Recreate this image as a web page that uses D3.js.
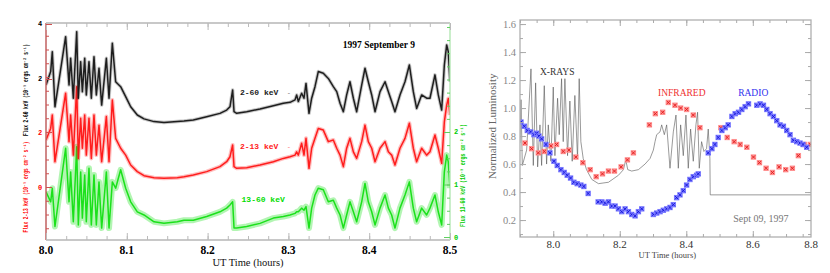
<!DOCTYPE html>
<html>
<head>
<meta charset="utf-8">
<script src="https://cdn.jsdelivr.net/npm/d3@7"></script>
<style>
  body { margin: 0; background: #fff; }
  svg { display: block; }
</style>
</head>
<body>
<div id="chart"></div>
<script>
// ---- left panel: RXTE light curves (UT hours)
const leftTime = [
  8.000, 8.0058, 8.0078, 8.0111, 8.0243, 8.0285, 8.0305, 8.0338, 8.0380, 8.0400,
  8.0429, 8.0450, 8.0479, 8.0499, 8.0532, 8.0561, 8.0594, 8.0623, 8.0656, 8.0689,
  8.0747, 8.0780, 8.0821, 8.0862, 8.0924, 8.0986, 8.1048, 8.1130, 8.1213, 8.1337,
  8.1460, 8.1625, 8.1708,
  8.1823, 8.1989, 8.2153, 8.2236, 8.2277, 8.2310, 8.2327, 8.2360, 8.2484, 8.2649,
  8.2814, 8.2937, 8.3020, 8.3082, 8.3102, 8.3123, 8.3164, 8.3193, 8.3218, 8.3255,
  8.3288, 8.3329, 8.3370,
  8.3432, 8.3494, 8.3556, 8.3598, 8.3639, 8.3680, 8.3721, 8.3762, 8.3804, 8.3845,
  8.3907, 8.3948, 8.3989, 8.4031, 8.4072, 8.4134, 8.4196, 8.4237, 8.4278, 8.4319,
  8.4381, 8.4443, 8.4497, 8.4546, 8.4587, 8.4649, 8.4711, 8.4752, 8.4814, 8.4855,
  8.4897, 8.4930, 8.4959, 8.4979, 8.5000
];
const flux2to60 = [
  1.78, 2.27, 2.99, 0.99, 3.54, 1.78, 2.75, 1.30, 3.72, 1.30,
  2.63, 1.54, 2.75, 1.42, 2.63, 1.30, 2.81, 1.42, 2.39, 1.05,
  2.75, 1.30, 3.30, 1.90, 1.72, 1.36, 0.99, 0.69, 0.55, 0.45,
  0.42, 0.45, 0.47,
  0.51, 0.63, 0.75, 0.87, 0.99, 1.60, 0.81, 0.75, 0.81, 0.91,
  1.03, 1.12, 1.15, 1.24, 1.42, 1.18, 1.48, 1.30, 1.84, 0.75,
  1.30, 1.72, 2.27,
  2.21, 2.02, 1.72, 1.54, 1.12, 0.81, 1.42, 1.90, 1.30, 0.81,
  1.78, 2.39, 1.90, 1.42, 0.81, 1.54, 1.90, 1.54, 1.18, 0.81,
  1.42, 1.90, 2.51, 1.54, 0.93, 1.42, 1.30, 1.30, 2.15, 1.42,
  0.87, 2.51, 3.24, 2.99, 1.90
];
const flux2to13 = [
  1.71, 2.13, 2.62, 0.92, 3.41, 1.65, 2.62, 1.16, 3.65, 1.04,
  2.50, 1.41, 2.62, 1.16, 2.50, 1.04, 2.62, 1.16, 2.25, 0.92,
  2.56, 0.92, 3.16, 1.77, 1.41, 1.16, 0.80, 0.56, 0.41, 0.34,
  0.32, 0.34, 0.37,
  0.44, 0.56, 0.74, 0.92, 1.10, 1.53, 0.74, 0.68, 0.70, 0.80,
  0.92, 1.04, 1.10, 1.16, 1.28, 1.16, 1.59, 1.16, 1.77, 0.68,
  1.41, 1.77, 2.13,
  2.07, 1.65, 1.71, 1.41, 1.16, 0.74, 1.41, 1.77, 1.28, 1.04,
  1.65, 2.25, 1.65, 1.41, 0.92, 1.41, 1.65, 1.28, 1.16, 0.80,
  1.41, 1.77, 2.32, 1.41, 0.92, 1.41, 1.16, 1.28, 1.89, 1.41,
  0.86, 2.37, 2.98, 3.22, 2.62
];
const flux13to60 = [
  0.86, 0.67, 0.93, 0.20, 1.69, 0.67, 1.24, 0.29, 1.72, 0.23,
  1.24, 0.36, 1.18, 0.29, 1.31, 0.23, 1.18, 0.23, 1.05, 0.17,
  1.24, 0.17, 1.05, 0.93, 1.28, 0.93, 0.67, 0.48, 0.42, 0.29,
  0.26, 0.29, 0.32,
  0.32, 0.39, 0.48, 0.55, 0.61, 0.67, 0.17, 0.17, 0.20, 0.26,
  0.36, 0.39, 0.42, 0.45, 0.48, 0.48, 0.55, 0.51, 0.58, 0.17,
  0.55, 0.80, 0.93,
  0.90, 0.67, 0.70, 0.55, 0.42, 0.17, 0.42, 0.67, 0.48, 0.29,
  0.67, 1.02, 0.67, 0.48, 0.23, 0.55, 0.80, 0.55, 0.42, 0.17,
  0.55, 0.80, 1.05, 0.55, 0.29, 0.55, 0.42, 0.55, 0.80, 0.48,
  0.23, 1.24, 1.56, 1.43, 0.93
];
const leftTicks = [8.0, 8.1, 8.2, 8.3, 8.4, 8.5];

// ---- right panel: normalized luminosity
const xrayTime = [
  7.900, 7.903, 7.907, 7.920, 7.933, 7.940, 7.947, 7.953, 7.960, 7.965,
  7.973, 7.980, 7.985, 7.993, 8.000, 8.005, 8.013, 8.018, 8.025, 8.030,
  8.035, 8.043, 8.050, 8.057, 8.065, 8.073, 8.078, 8.083, 8.090, 8.100,
  8.116, 8.136, 8.166, 8.196, 8.211, 8.218, 8.224, 8.236, 8.256, 8.276,
  8.291, 8.301, 8.306, 8.311, 8.321, 8.326, 8.334, 8.341, 8.351, 8.361,
  8.369, 8.376, 8.383, 8.391, 8.399, 8.406, 8.413, 8.421, 8.429, 8.434,
  8.439, 8.446, 8.453, 8.461, 8.466, 8.471, 8.472, 8.775
];
const xrayLum = [
  0.75, 1.06, 0.59, 0.70, 1.28, 0.59, 1.18, 0.58, 0.88, 0.59,
  1.16, 0.60, 0.88, 0.62, 1.15, 0.66, 1.07, 0.81, 1.21, 0.76,
  1.21, 0.66, 1.05, 0.62, 1.09, 0.64, 1.21, 0.76, 0.64, 0.56,
  0.49, 0.46, 0.47, 0.52, 0.56, 0.63, 0.56, 0.55, 0.56, 0.60,
  0.64, 0.70, 0.76, 0.81, 0.83, 0.88, 0.81, 0.88, 0.57, 0.83,
  0.95, 0.57, 0.88, 0.66, 0.95, 0.57, 0.85, 0.62, 0.88, 0.97,
  0.57, 0.76, 0.69, 0.71, 0.85, 0.64, 0.38, 0.38
];
const irTime = [
  7.915, 7.935, 7.955, 7.973, 7.993, 8.010, 8.030, 8.047, 8.068, 8.089,
  8.111, 8.129, 8.148, 8.166, 8.184, 8.204, 8.223, 8.241, 8.289, 8.307,
  8.329, 8.346, 8.366, 8.383, 8.401, 8.421, 8.441, 8.504, 8.523, 8.544,
  8.562, 8.582, 8.602, 8.620, 8.640, 8.659, 8.679, 8.699, 8.719, 8.737,
  8.755, 8.773
];
const irLum = [
  0.75, 0.71, 0.68, 0.69, 0.73, 0.74, 0.69, 0.70, 0.65, 0.61,
  0.56, 0.51, 0.53, 0.55, 0.55, 0.58, 0.63, 0.68, 0.88, 0.96,
  0.97, 1.04, 1.02, 1.00, 0.99, 0.95, 0.86, 0.86, 0.79, 0.76,
  0.74, 0.72, 0.65, 0.61, 0.57, 0.54, 0.58, 0.56, 0.57, 0.66,
  0.74, 0.74
];
const radioTime = [
  7.903, 7.913, 7.922, 7.932, 7.942, 7.950, 7.957, 7.965, 7.978, 7.990,
  8.002, 8.012, 8.023, 8.033, 8.042, 8.052, 8.062, 8.072, 8.083, 8.092,
  8.105, 8.135, 8.146, 8.156, 8.166, 8.176, 8.186, 8.196, 8.206, 8.216,
  8.226, 8.236, 8.246, 8.256, 8.266, 8.301, 8.311, 8.321, 8.331, 8.341,
  8.351, 8.361, 8.371, 8.381, 8.391, 8.401, 8.411, 8.421, 8.431, 8.436,
  8.466, 8.477, 8.486, 8.496, 8.507, 8.517, 8.526, 8.537, 8.547, 8.557,
  8.567, 8.577, 8.587, 8.612, 8.622, 8.632, 8.642, 8.652, 8.662, 8.672,
  8.682, 8.692, 8.702, 8.712, 8.722, 8.732, 8.742, 8.751, 8.762
];
const radioLum = [
  0.90, 0.87, 0.84, 0.83, 0.81, 0.82, 0.80, 0.78, 0.74, 0.68,
  0.62, 0.59, 0.56, 0.54, 0.52, 0.50, 0.47, 0.46, 0.45, 0.44,
  0.39, 0.33, 0.33, 0.32, 0.33, 0.30, 0.30, 0.28, 0.26, 0.28,
  0.26, 0.24, 0.23, 0.26, 0.28, 0.24, 0.25, 0.26, 0.27, 0.28,
  0.29, 0.31, 0.36, 0.38, 0.41, 0.45, 0.49, 0.51, 0.52, 0.53,
  0.68, 0.71, 0.74, 0.79, 0.84, 0.86, 0.88, 0.94, 0.96, 0.97,
  0.99, 1.01, 1.03, 1.02, 1.03, 1.02, 0.99, 0.96, 0.94, 0.91,
  0.88, 0.87, 0.84, 0.81, 0.77, 0.76, 0.75, 0.74, 0.72
];
const rightXTicks = [8.0, 8.2, 8.4, 8.6, 8.8];
const rightYTicks = [0.2, 0.4, 0.6, 0.8, 1.0, 1.2, 1.4, 1.6];

const serif = "'Liberation Serif', 'DejaVu Serif', serif";
const mono = "'Liberation Mono', 'DejaVu Sans Mono', monospace";

const svg = d3.select("#chart").append("svg")
  .attr("width", 830).attr("height", 273);
svg.append("rect").attr("width", 830).attr("height", 273).attr("fill", "#fff");
const defs = svg.append("defs");

// ================= left panel =================
const xL = d3.scaleLinear().domain([8.0, 8.5]).range([46, 450]);
const yBlack = d3.scaleLinear().domain([-3.855, 4.036]).range([240, 23]);
const yRed = d3.scaleLinear().domain([-1.927, 5.964]).range([240, 23]);
const yGreen = d3.scaleLinear().domain([-0.057, 4.076]).range([240, 23]);

defs.append("clipPath").attr("id", "clipL").append("rect")
  .attr("x", 46).attr("y", 23).attr("width", 404).attr("height", 217);

const gL = svg.append("g");
const plotL = gL.append("g").attr("clip-path", "url(#clipL)");

// noisy band look: a faint wide stroke under a thinner core line
function drawBand(values, yScale, color, halo, haloOp) {
  const pts = leftTime.map((t, i) => [t, values[i]]);
  const line = d3.line().x(d => xL(d[0])).y(d => yScale(d[1]));
  plotL.append("path").datum(pts).attr("d", line)
    .attr("fill", "none").attr("stroke", color).attr("stroke-opacity", haloOp)
    .attr("stroke-width", halo).attr("stroke-linejoin", "round");
  plotL.append("path").datum(pts).attr("d", line)
    .attr("fill", "none").attr("stroke", color).attr("stroke-opacity", 0.85)
    .attr("stroke-width", 1.5).attr("stroke-linejoin", "round");
}
drawBand(flux13to60, yGreen, "#00dd00", 6, 0.3);
drawBand(flux2to13, yRed, "#ff0000", 4, 0.25);
drawBand(flux2to60, yBlack, "#000000", 3.5, 0.22);

// frame
gL.append("line").attr("x1", 46).attr("x2", 450).attr("y1", 23).attr("y2", 23)
  .attr("stroke", "#c8c8c8").attr("stroke-width", 2);
gL.append("line").attr("x1", 46).attr("x2", 450).attr("y1", 240).attr("y2", 240)
  .attr("stroke", "#c8c8c8").attr("stroke-width", 2);
gL.append("line").attr("x1", 46).attr("x2", 46).attr("y1", 23).attr("y2", 240)
  .attr("stroke", "#c06060").attr("stroke-width", 1.5);
gL.append("line").attr("x1", 450).attr("x2", 450).attr("y1", 23).attr("y2", 240)
  .attr("stroke", "#b8e8b8").attr("stroke-width", 1.5);

function tickGroup(parent, transform, axis, color) {
  const g = parent.append("g").attr("transform", transform).call(axis);
  g.select(".domain").remove();
  g.selectAll(".tick line").attr("stroke", color);
  g.selectAll(".tick text").remove();
  return g;
}

const minorT = d3.range(0, 21).map(i => 8 + i * 0.025);
tickGroup(gL, "translate(0,23)", d3.axisBottom(xL).tickValues(minorT).tickSize(4), "#bbb");
tickGroup(gL, "translate(0,23)", d3.axisBottom(xL).tickValues(leftTicks).tickSize(7), "#bbb");
tickGroup(gL, "translate(0,240)", d3.axisTop(xL).tickValues(minorT).tickSize(4), "#bbb");
tickGroup(gL, "translate(0,240)", d3.axisTop(xL).tickValues(leftTicks).tickSize(7), "#bbb");

tickGroup(gL, "translate(46,0)",
  d3.axisRight(yRed).tickValues(d3.range(-1.5, 6, 0.5)).tickSize(3), "#d05050");
tickGroup(gL, "translate(46,0)",
  d3.axisRight(yRed).tickValues([0, 2]).tickSize(6), "#d05050");
tickGroup(gL, "translate(46,0)",
  d3.axisRight(yBlack).tickValues([2, 4]).tickSize(6), "#d05050");
tickGroup(gL, "translate(450,0)",
  d3.axisLeft(yGreen).tickValues(d3.range(0, 4.01, 0.25)).tickSize(3), "#60d060");
tickGroup(gL, "translate(450,0)",
  d3.axisLeft(yGreen).tickValues([0, 1, 2]).tickSize(6), "#60d060");

// tick labels
gL.selectAll("text.xl").data(leftTicks).join("text")
  .attr("x", d => xL(d)).attr("y", 253.5)
  .attr("text-anchor", "middle").attr("font-family", serif)
  .attr("font-weight", "bold").attr("font-size", 11.5).attr("fill", "#000")
  .text(d3.format(".1f"));
gL.append("text").attr("x", xL(8.25)).attr("y", 265.5)
  .attr("text-anchor", "middle").attr("font-family", serif)
  .attr("font-size", 10.5).attr("fill", "#111").text("UT Time (hours)");

gL.selectAll("text.yb").data([4, 2]).join("text")
  .attr("x", 40).attr("y", d => yBlack(d) + 2.5)
  .attr("text-anchor", "middle").attr("font-family", mono).attr("font-weight", "bold")
  .attr("font-size", 7).attr("fill", "#000").text(d => d);
gL.selectAll("text.yr").data([2, 0]).join("text")
  .attr("x", 40).attr("y", d => yRed(d) + 2.5)
  .attr("text-anchor", "middle").attr("font-family", mono).attr("font-weight", "bold")
  .attr("font-size", 7).attr("fill", "#ff0000").text(d => d);
gL.selectAll("text.yg").data([2, 1, 0]).join("text")
  .attr("x", 456).attr("y", d => yGreen(d) + 2.5)
  .attr("text-anchor", "middle").attr("font-family", mono).attr("font-weight", "bold")
  .attr("font-size", 7).attr("fill", "#00cc00").text(d => d);

// axis titles (rotated)
function vTitle(x, yMid, len, color, txt) {
  gL.append("text")
    .attr("transform", `translate(${x},${yMid}) rotate(-90)`)
    .attr("text-anchor", "middle").attr("font-family", mono).attr("font-weight", "bold")
    .attr("font-size", 6.5).attr("fill", color)
    .attr("textLength", len).attr("lengthAdjust", "spacingAndGlyphs")
    .text(txt);
}
vTitle(27.5, yBlack(1.6), 92, "#000", "Flux 2-60 keV (10\u207B\u2079 ergs cm\u207B\u00B2 s\u207B\u00B9)");
vTitle(27.5, yRed(-0.0), 91, "#ff0000", "Flux 2-13 keV (10\u207B\u2079 ergs cm\u207B\u00B2 s\u207B\u00B9)");
vTitle(464.5, yGreen(1.17), 103, "#00cc00", "Flux 13-60 keV (10\u207B\u2079 ergs cm\u207B\u00B2 s\u207B\u00B9)");

// annotations
gL.append("text").attr("x", xL(8.412)).attr("y", yBlack(3.13))
  .attr("text-anchor", "middle").attr("font-family", serif).attr("font-weight", "bold")
  .attr("font-size", 9.5).attr("fill", "#000").text("1997 September 9");
const bandLabels = [
  { t: 8.240, y: yBlack(1.42), c: "#222", s: "2-60 keV", dash: true },
  { t: 8.240, y: yRed(1.38), c: "#ff2020", s: "2-13 keV", dash: true },
  { t: 8.242, y: yGreen(0.667), c: "#00dd00", s: "13-60 keV", dash: false }
];
gL.selectAll("text.band").data(bandLabels).join("text")
  .attr("x", d => xL(d.t)).attr("y", d => d.y)
  .attr("font-family", mono).attr("font-weight", "bold").attr("font-size", 8)
  .attr("fill", d => d.c).text(d => d.s);
gL.selectAll("text.dash").data(bandLabels.filter(d => d.dash)).join("text")
  .attr("x", d => xL(d.t + 0.058)).attr("y", d => d.y)
  .attr("font-family", mono).attr("font-size", 7)
  .attr("fill", d => d.c).attr("opacity", 0.6).text("-");

// ================= right panel =================
const xR = d3.scaleLinear().domain([7.9, 8.775]).range([520, 811]);
const yR = d3.scaleLinear().domain([0.079, 1.629]).range([237, 20]);

defs.append("clipPath").attr("id", "clipR").append("rect")
  .attr("x", 520).attr("y", 20).attr("width", 291).attr("height", 217);

const gR = svg.append("g");
const plotR = gR.append("g").attr("clip-path", "url(#clipR)");

const xrayPts = xrayTime.map((t, i) => [t, xrayLum[i]]);
plotR.append("path").datum(xrayPts)
  .attr("d", d3.line().x(d => xR(d[0])).y(d => yR(d[1])))
  .attr("fill", "none").attr("stroke", "#555").attr("stroke-width", 0.6);

function drawMarkers(times, lums, fillC, strokeC) {
  const pts = times.map((t, i) => [t, lums[i]]);
  const m = plotR.append("g").selectAll("g").data(pts).join("g")
    .attr("transform", d => `translate(${xR(d[0])},${yR(d[1])})`);
  m.append("rect").attr("x", -2.7).attr("y", -2.7).attr("width", 5.4).attr("height", 5.4)
    .attr("fill", fillC);
  m.append("path").attr("d", "M-1.6,-1.6L1.6,1.6M-1.6,1.6L1.6,-1.6")
    .attr("stroke", strokeC).attr("stroke-width", 0.9);
}
drawMarkers(irTime, irLum, "#ff8f8f", "#e01818");
drawMarkers(radioTime, radioLum, "#7a7aff", "#1010d8");

gR.append("rect").attr("x", 520).attr("y", 20).attr("width", 291).attr("height", 217)
  .attr("fill", "none").attr("stroke", "#b0b0b0").attr("stroke-width", 1.3);

const rMinorX = d3.range(0, 18).map(i => 7.9 + i * 0.05);
const rMajorX = [8.0, 8.2, 8.4, 8.6];
const rMinorY = d3.range(1, 17).map(i => i * 0.1);
tickGroup(gR, "translate(0,237)", d3.axisTop(xR).tickValues(rMinorX).tickSize(3), "#aaa");
tickGroup(gR, "translate(0,237)", d3.axisTop(xR).tickValues(rMajorX).tickSize(6), "#aaa");
tickGroup(gR, "translate(0,20)", d3.axisBottom(xR).tickValues(rMinorX).tickSize(3), "#aaa");
tickGroup(gR, "translate(0,20)", d3.axisBottom(xR).tickValues(rMajorX).tickSize(6), "#aaa");
tickGroup(gR, "translate(520,0)", d3.axisRight(yR).tickValues(rMinorY).tickSize(3), "#aaa");
tickGroup(gR, "translate(520,0)", d3.axisRight(yR).tickValues(rightYTicks).tickSize(6), "#aaa");
tickGroup(gR, "translate(811,0)", d3.axisLeft(yR).tickValues(rMinorY).tickSize(3), "#aaa");
tickGroup(gR, "translate(811,0)", d3.axisLeft(yR).tickValues(rightYTicks).tickSize(6), "#aaa");

gR.selectAll("text.rx").data(rightXTicks).join("text")
  .attr("x", d => Math.min(xR(d), 811)).attr("y", 247.5)
  .attr("text-anchor", "middle").attr("font-family", serif)
  .attr("font-size", 11).attr("fill", "#333").text(d3.format(".1f"));
gR.selectAll("text.ry").data(rightYTicks).join("text")
  .attr("x", 516).attr("y", d => yR(d) + 3.8)
  .attr("text-anchor", "end").attr("font-family", serif)
  .attr("font-size", 10.5).attr("fill", "#888").text(d3.format(".1f"));
gR.append("text")
  .attr("transform", `translate(496,${yR(0.87)}) rotate(-90)`)
  .attr("text-anchor", "middle").attr("font-family", serif)
  .attr("font-size", 11).attr("fill", "#666").text("Normalized Luminosity");
gR.append("text").attr("x", xR(8.343)).attr("y", 258)
  .attr("text-anchor", "middle").attr("font-family", serif)
  .attr("font-size", 8.5).attr("fill", "#444").text("UT Time (hours)");

gR.append("text").attr("x", xR(7.960)).attr("y", yR(1.236))
  .attr("font-family", serif).attr("font-size", 9.5).attr("fill", "#333").text("X-RAYS");
gR.append("text").attr("x", xR(8.315)).attr("y", yR(1.086))
  .attr("font-family", serif).attr("font-size", 9.5).attr("fill", "#ee3030").text("INFRARED");
gR.append("text").attr("x", xR(8.556)).attr("y", yR(1.086))
  .attr("font-family", serif).attr("font-size", 9.5).attr("fill", "#3030ee").text("RADIO");
gR.append("text").attr("x", xR(8.541)).attr("y", yR(0.186))
  .attr("font-family", serif).attr("font-size", 10).attr("fill", "#777").text("Sept 09, 1997");
</script>
</body>
</html>
